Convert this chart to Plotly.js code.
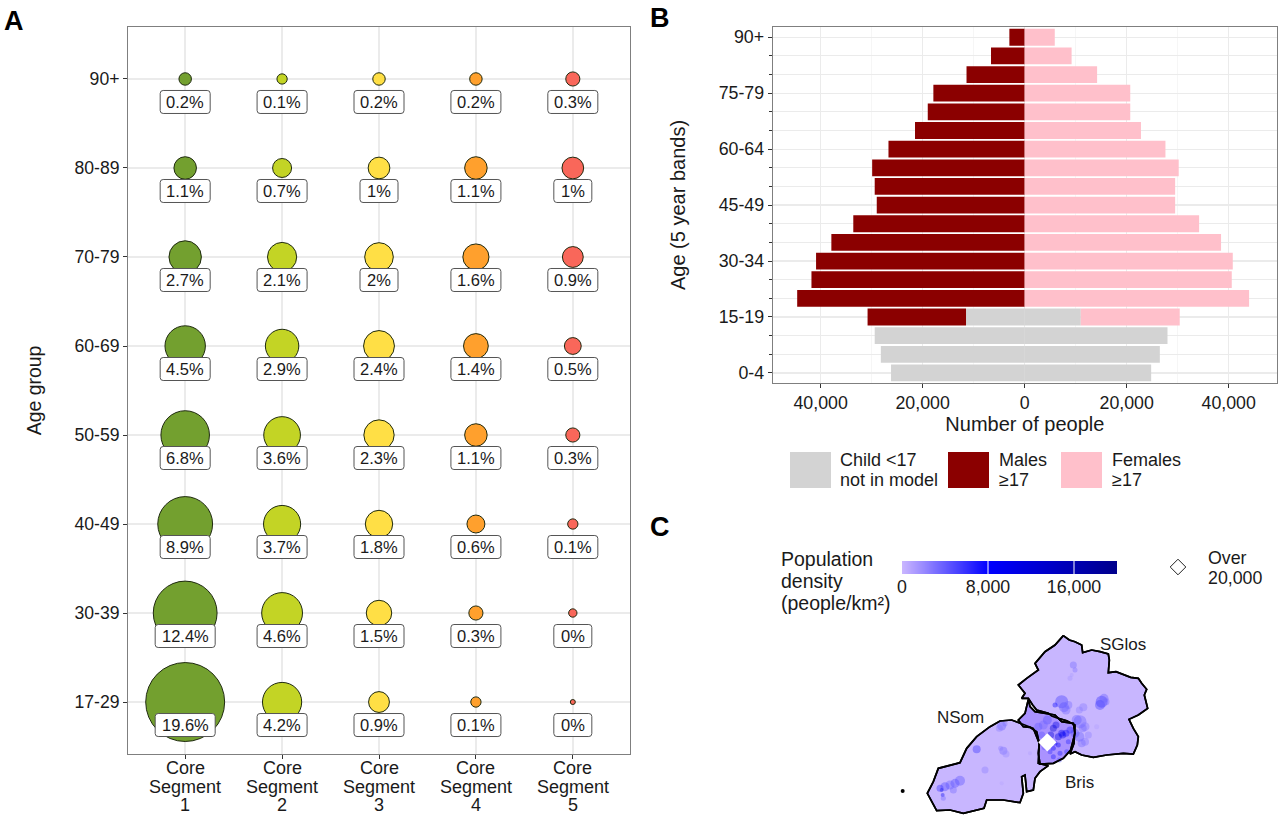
<!DOCTYPE html>
<html><head><meta charset="utf-8">
<script src="https://cdn.plot.ly/plotly-3.0.1.min.js"></script>
<style>html,body{margin:0;padding:0;background:#fff}#c{width:1280px;height:817px}</style></head>
<body><div id="c"></div>
<script>
// Panel A
const ageGroups = ['17-29','30-39','40-49','50-59','60-69','70-79','80-89','90+'];
const segments = ['Core|Segment|1','Core|Segment|2','Core|Segment|3','Core|Segment|4','Core|Segment|5'];
const segColors = ['#73a02f','#c3d425','#ffdf45','#ffa02d','#f9675a'];
const seg1 = [19.6,12.4,8.9,6.8,4.5,2.7,1.1,0.2];
const seg2 = [4.2,4.6,3.7,3.6,2.9,2.1,0.7,0.1];
const seg3 = [0.9,1.5,1.8,2.3,2.4,2.0,1.0,0.2];
const seg4 = [0.1,0.3,0.6,1.1,1.4,1.6,1.1,0.2];
const seg5 = [0.0,0.04,0.1,0.3,0.5,0.9,1.0,0.3];
const segVals = [seg1,seg2,seg3,seg4,seg5];
// Panel B
const ageBands = ['0-4','5-9','10-14','15-19','20-24','25-29','30-34','35-39','40-44','45-49','50-54','55-59','60-64','65-69','70-74','75-79','80-84','85-89','90+'];
const childMale   = [26200,28200,29400,11500,0,0,0,0,0,0,0,0,0,0,0,0,0,0,0];
const adultMale   = [0,0,0,19300,44600,41800,40900,37900,33600,29000,29400,29900,26700,21500,19000,17900,11400,6600,3000];
const childFemale = [24800,26500,28000,11000,0,0,0,0,0,0,0,0,0,0,0,0,0,0,0];
const adultFemale = [0,0,0,19400,44000,40600,40800,38500,34200,29500,29500,30200,27600,22800,20700,20700,14200,9200,5900];
const popTicks = [-40000,-20000,0,20000,40000];
const popTickText = ['40,000','20,000','0','20,000','40,000'];
const bandTicks = [0,3,6,9,12,15,18];
// Panel C
const densityStops = [0,1000,2000,3000,4000,5000,6000,7000,8000,9000,10000,11000,12000,13000,14000,15000,16000,17000,18000,19000,20000];
const densityScale = [[0,'#c9b5ff'],[0.4,'#0000ff'],[1,'#00008b']];
const sglosE = [910,928,945,965,968,995,1020,1045,1048,1045,1068,1095,1112,1135,1145,1160,1153,1163,1135,1107,1120,1135,1132,1120,1090,1040,1000,965,945,930,942,945,920,895,875,865,830,818,805,785,795,775,800,835,825,855,885,910];
const sglosN = [47,60,65,75,98,90,95,102,120,158,155,165,172,175,190,208,225,265,285,298,325,350,375,402,400,405,412,405,395,402,370,315,302,295,288,280,270,255,235,235,220,195,175,150,130,95,75,47];
const brisE = [805,810,825,855,885,905,940,945,932,910,880,840,835,838,830,810,790,775,795,805];
const brisN = [238,260,275,280,285,305,310,340,390,415,430,432,400,370,335,322,320,300,280,238];
const nsomE = [690,720,755,780,820,838,835,865,840,825,820,800,795,785,790,780,730,680,672,610,570,530,502,520,535,600,620,650,690];
const nsomN = [320,303,300,310,325,370,430,437,455,475,510,515,465,470,520,548,540,540,565,580,570,572,520,485,445,428,385,350,320];
const islandE = [428], islandN = [513];
const blobE = [940,945,930,935,905,912,885,918,925,970,958,1025,1020,1032,1038,960,975,950,968,945,958,965,975,985,1010,725,718,735,650,730,738,722,675,585,600,570,555,545,548,540,550,580,810,725,
 880,872,888,895,905,862,850,835,845,880,900,918,925,880,895,908,860,885,870,855,930,920,898];
const blobN = [135,150,175,165,245,262,255,270,255,262,270,245,255,235,245,305,320,300,325,340,350,370,365,345,320,318,325,312,388,392,402,385,450,490,482,495,500,510,525,505,535,510,400,490,
 325,345,315,350,340,300,315,320,345,385,400,340,365,410,375,345,365,370,395,380,330,395,420];
const blobD = [3500,3000,1500,1200,5500,4500,8000,3500,3500,2800,2500,6000,5500,4000,3500,3800,3000,4000,3500,4500,4000,3500,3000,2500,1000,4000,2500,3000,6000,3500,2000,2500,2500,5000,4500,4000,5000,11000,9000,6000,3500,3500,1000,800,
 13000,12000,11000,11000,9000,4500,3500,4000,4500,8000,7000,8500,6500,7000,9000,10000,6000,8500,6000,4500,6500,6000,5000];
const blobS = [7,5,5,4,13,10,5,9,8,8,7,12,10,9,7,13,9,10,8,9,10,8,8,7,5,9,7,5,8,8,7,5,7,9,10,9,9,4,4,7,5,7,4,4,
 7,7,7,7,7,9,9,8,7,5,5,7,5,5,5,7,5,5,5,7,7,5,5];
const diamondE = [862], diamondN = [367];
const legendDiamondX = [1178], legendDiamondY = [567];

const F = 'Liberation Sans, Arial, sans-serif';
const px = x => x/1280, py = y => 1-y/817;
const GRID = '#ebebeb', FRAME = '#7f7f7f', INK = '#1a1a1a';
const dia = v => 5 + 16.7*Math.sqrt(v);
const fmt = v => (Math.round(v*10)/10) + '%';

const data = [];
const shapes = [];
const anns = [];
function note(x,y,text,size,opt){anns.push(Object.assign({xref:'paper',yref:'paper',x:px(x),y:py(y),text,showarrow:false,xanchor:'left',yanchor:'middle',align:'left',font:{family:F,size:size,color:INK}},opt||{}));}

// bubbles
segVals.forEach((vals,s)=>{
  data.push({type:'scatter',mode:'markers',xaxis:'x',yaxis:'y',x:vals.map(()=>s+1),y:ageGroups.map((_,i)=>i+1),
    marker:{size:vals.map(v=>dia(v)),color:segColors[s],line:{color:'#1f2a10',width:1},opacity:1},cliponaxis:false,hoverinfo:'skip'});
  vals.forEach((v,i)=>{
    const t = fmt(v), w = t.length>=5?60:(t.length===4?50:38), hw=w/2, hh=11.5, r=3, c=-23;
    shapes.push({type:'path',xref:'x',yref:'y',xsizemode:'pixel',ysizemode:'pixel',xanchor:s+1,yanchor:i+1,layer:'above',
      fillcolor:'#fff',line:{color:'#555',width:1},
      path:`M ${-hw+r} ${c+hh} L ${hw-r} ${c+hh} Q ${hw} ${c+hh} ${hw} ${c+hh-r} L ${hw} ${c-hh+r} Q ${hw} ${c-hh} ${hw-r} ${c-hh} L ${-hw+r} ${c-hh} Q ${-hw} ${c-hh} ${-hw} ${c-hh+r} L ${-hw} ${c+hh-r} Q ${-hw} ${c+hh} ${-hw+r} ${c+hh} Z`});
    anns.push({xref:'x',yref:'y',x:s+1,y:i+1,yshift:-23,text:t,showarrow:false,font:{family:F,size:16.5,color:INK}});
  });
  segments[s].split('|').forEach((line,k)=>anns.push({xref:'x',yref:'paper',x:s+1,y:py([768,787,805][k]),yanchor:'middle',text:line,showarrow:false,font:{family:F,size:18,color:INK}}));
});

// pyramid
const bandIdx = ageBands.map((_,i)=>i);
const bar = (x,color)=>({type:'bar',orientation:'h',xaxis:'x2',yaxis:'y2',y:bandIdx,x,width:0.9,marker:{color,line:{width:0}},hoverinfo:'skip'});
data.push(bar(childMale.map(v=>-v),'#d3d3d3'));
data.push(bar(adultMale.map(v=>-v),'#8b0000'));
data.push(bar(childFemale,'#d3d3d3'));
data.push(bar(adultFemale,'#ffc0cb'));

// map
const poly = (x,y,fill)=>({type:'scatter',mode:'lines',xaxis:'x3',yaxis:'y3',x,y,fill:'toself',fillcolor:fill,line:{color:'#000',width:1.7},hoverinfo:'skip'});
data.push(poly(sglosE,sglosN,'#c8b6ff'));
data.push(poly(nsomE,nsomN,'#c8b6ff'));
data.push(poly(brisE,brisN,'#aa92ff'));
data.push({type:'scatter',mode:'markers',xaxis:'x3',yaxis:'y3',x:blobE,y:blobN,
  marker:{size:blobS,color:blobD,cmin:0,cmax:20000,colorscale:densityScale,opacity:0.38,line:{width:0}},hoverinfo:'skip'});
[[sglosE,sglosN],[nsomE,nsomN],[brisE,brisN]].forEach(([x,y])=>data.push({type:'scatter',mode:'lines',xaxis:'x3',yaxis:'y3',x,y,line:{color:'#000',width:1.7},hoverinfo:'skip'}));
data.push({type:'scatter',mode:'markers',xaxis:'x3',yaxis:'y3',x:islandE,y:islandN,marker:{symbol:'circle',size:4,color:'#000'},hoverinfo:'skip'});
data.push({type:'scatter',mode:'markers',xaxis:'x3',yaxis:'y3',x:diamondE,y:diamondN,marker:{symbol:'diamond',size:14,color:'#fff',line:{width:0}},hoverinfo:'skip'});

// density key
data.push({type:'heatmap',xaxis:'x4',yaxis:'y4',x:densityStops,y:[0,1],z:[densityStops,densityStops],colorscale:densityScale,zmin:0,zmax:20000,zsmooth:'best',showscale:false,hoverinfo:'skip'});
data.push({type:'scatter',mode:'markers',xaxis:'x5',yaxis:'y5',x:legendDiamondX,y:legendDiamondY,marker:{symbol:'diamond-open',size:12,color:'#222',line:{width:1,color:'#222'}},hoverinfo:'skip'});
[8000,16000].forEach(v=>shapes.push({type:'line',xref:'x4',yref:'y4',x0:v,x1:v,y0:0,y1:1,line:{color:'#fff',width:1}}));

// pyramid key
[[790,'#d3d3d3'],[948,'#8b0000'],[1061,'#ffc0cb']].forEach(([x,c])=>shapes.push({type:'rect',xref:'paper',yref:'paper',x0:px(x),x1:px(x+41),y0:py(452),y1:py(488),fillcolor:c,line:{width:0}}));
note(838,460,'Child &lt;17',18);
note(838,480,'not in model',18);
note(997,460,'Males',18);
note(997,480,'≥17',18);
note(1110,460,'Females',18);
note(1110,480,'≥17',18);
note(779,559,'Population',19.5);
note(779,581,'density',19.5);
note(779,603,'(people/km²)',19.5);
note(1206,558,'Over',17.8);
note(1206,578,'20,000',17.8);
note(1098,644,'SGlos',17);
note(935,717,'NSom',17);
note(1063,782,'Bris',17);
note(2,21,'<b>A</b>',27,{font:{family:F,size:27,color:'#000'}});
note(648,18,'<b>B</b>',27,{font:{family:F,size:27,color:'#000'}});
note(648,527,'<b>C</b>',27,{font:{family:F,size:27,color:'#000'}});

const tickA = {family:F,size:17.6,color:INK};
const tick = {family:F,size:17.8,color:INK};
const layout = {
  width:1280,height:817,margin:{l:0,r:0,t:0,b:0,pad:0},paper_bgcolor:'#fff',plot_bgcolor:'rgba(0,0,0,0)',showlegend:false,barmode:'relative',
  font:{family:F,color:INK},
  xaxis:{domain:[px(128),px(630)],anchor:'y',range:[0.41,5.59],tickvals:[1,2,3,4,5],ticktext:['','','','',''],tickfont:tickA,showgrid:true,gridcolor:GRID,gridwidth:1.5,zeroline:false,showline:true,mirror:true,linecolor:FRAME,linewidth:1,ticks:'outside',ticklen:4,tickcolor:'#333'},
  yaxis:{domain:[py(754),py(27)],anchor:'x',range:[0.416,8.584],tickvals:ageGroups.map((_,i)=>i+1),ticktext:ageGroups,tickfont:tickA,showgrid:true,gridcolor:GRID,gridwidth:1.5,zeroline:false,showline:true,mirror:true,linecolor:FRAME,linewidth:1,ticks:'outside',ticklen:4,tickcolor:'#333',
    title:{text:'Age group',font:{family:F,size:19.4,color:INK},standoff:27}},
  xaxis2:{domain:[px(772.7),px(1277)],anchor:'y2',range:[-49400,49470],tickvals:popTicks,ticktext:popTickText,tickfont:tick,showgrid:true,gridcolor:GRID,gridwidth:1.2,zeroline:false,showline:true,mirror:true,linecolor:FRAME,linewidth:1,ticks:'outside',ticklen:4,tickcolor:'#333',
    minor:{dtick:10000,showgrid:true,gridcolor:'#f2f2f2',gridwidth:0.7,ticks:''},
    title:{text:'Number of people',font:{family:F,size:20,color:INK},standoff:0}},
  yaxis2:{domain:[py(383),py(27)],anchor:'x2',range:[-0.54,18.55],tickvals:bandTicks,ticktext:bandTicks.map(i=>ageBands[i]),tickfont:tick,showgrid:true,gridcolor:GRID,gridwidth:1.2,zeroline:false,showline:true,mirror:true,linecolor:FRAME,linewidth:1,ticks:'outside',ticklen:4,tickcolor:'#333',
    minor:{dtick:1,showgrid:true,gridcolor:GRID,gridwidth:1,ticks:'outside',ticklen:3,tickcolor:'#333'},
    title:{text:'Age (5 year bands)',font:{family:F,size:20,color:INK},standoff:27}},
  xaxis3:{domain:[px(760),px(1180)],anchor:'y3',range:[0,1260],visible:false,fixedrange:true},
  yaxis3:{domain:[0,py(620)],anchor:'x3',range:[591,0],visible:false,fixedrange:true},
  xaxis4:{domain:[px(902),px(1117)],anchor:'y4',range:[0,20000],tickvals:[0,8000,16000],ticktext:['0','8,000','16,000'],tickfont:tick,ticks:'',showgrid:false,zeroline:false,showline:false},
  yaxis4:{domain:[py(574),py(561)],anchor:'x4',range:[0,1],visible:false},
  xaxis5:{domain:[0,1],anchor:'y5',range:[0,1280],visible:false},
  yaxis5:{domain:[0,1],anchor:'x5',range:[817,0],visible:false},
  shapes,annotations:anns
};
Plotly.newPlot('c',data,layout,{displayModeBar:false,staticPlot:true});
</script></body></html>
